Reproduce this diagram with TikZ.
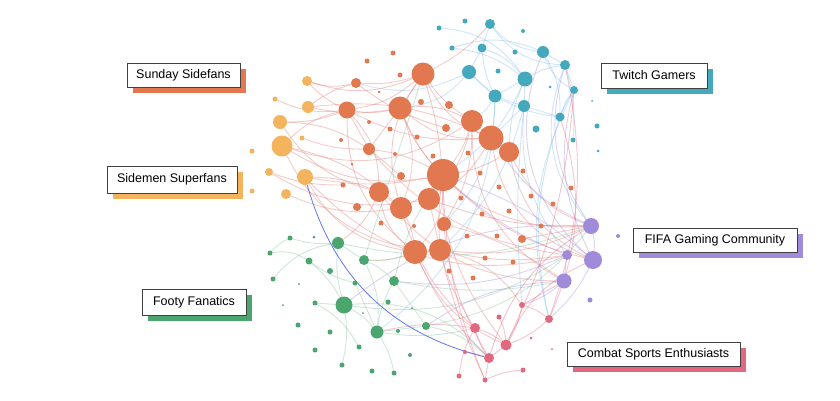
\documentclass[tikz,border=0pt]{standalone}
\usepackage{fontspec}
\setmainfont{Liberation Sans}
\usetikzlibrary{backgrounds,shadows}

\definecolor{cOrange}{HTML}{E2784F}
\definecolor{cYellow}{HTML}{F4B45E}
\definecolor{cTeal}{HTML}{45A9BE}
\definecolor{cPurple}{HTML}{9F8BD9}
\definecolor{cGreen}{HTML}{4BA56E}
\definecolor{cPink}{HTML}{E2687F}
\definecolor{eOrange}{HTML}{E07A72}
\definecolor{eTeal}{HTML}{7FB9F0}
\definecolor{eBlue}{HTML}{6378EA}

\begin{document}
\begin{tikzpicture}[x=1pt, y=-1pt,
        dot/.style={circle, inner sep=0pt, outer sep=0pt, draw=none},
        edge/.style={draw=#1, opacity=.38, line width=.9pt},
        tag/.style={draw=black!75, line width=.8pt, fill=white, inner sep=0pt,
            font=\fontsize{12.5}{14}\selectfont,
            general shadow={fill=#1, shadow xshift=6pt, shadow yshift=-6pt}}
        ]
            \useasboundingbox (0,0) rectangle (840,400);

            % Knoten
            \foreach \n/\x/\y/\r in {1/393/53/2.5, 2/367/61/2.5, 3/423/74/11.5, 4/400/75/2.5,
                    5/356/83/5, 6/379/92/1.5, 7/400/108/11.5, 8/421/102/3, 9/449/105/4,
                    10/347/110/8.5, 11/369/122/2, 12/472/121/11, 13/446/128/4, 14/390/129/2.5,
                    15/417/137/2.5, 16/341/140/2, 17/491/138/12.5, 18/509/152/10, 19/369/149/6,
                    20/395/154/2, 21/433/156/2.5, 22/468/153/2.5, 23/352/164/1.5, 24/443/175/16,
                    25/401/176/4, 26/480/173/2.5, 27/523/171/2.5, 28/499/187/2.5, 29/343/185/2.5,
                    30/379/192/10, 31/571/188/2.5, 32/429/199/11, 33/401/208/11, 34/357/207/4,
                    35/461/198/2.5, 36/531/196/2.5, 37/553/204/2.5, 38/482/214/2.5, 39/509/211/2.5,
                    40/444/224/7, 41/381/223/2.5, 42/414/226/2, 43/541/226/2.5, 44/467/236/2.5,
                    45/497/236/2.5, 46/522/239/4, 47/415/252/12, 48/440/250/11, 49/485/258/2.5,
                    50/513/262/2.5, 51/449/271/2.5, 52/473/278/2.5}
                \node[dot, fill=cOrange, minimum size={2*\r pt}] (o\n) at (\x,\y) {};
            \foreach \n/\x/\y/\r in {1/490/24/5, 2/465/21/2.5, 3/439/28/2.5, 4/523/31/2,
                    5/482/48/4.5, 6/452/48/2.5, 7/515/52/2.5, 8/543/52/6, 9/565/65/5,
                    10/469/72/7, 11/498/71/2.5, 12/525/79/7.5, 13/574/90/4, 14/550/87/1.5,
                    15/495/96/6.5, 16/524/106/6, 17/592/101/1, 18/560/117/4.5, 19/597/126/2.5,
                    20/536/129/3.5, 21/573/140/2.5, 22/598/151/1.5}
                \node[dot, fill=cTeal, minimum size={2*\r pt}] (t\n) at (\x,\y) {};
            \foreach \n/\x/\y/\r in {1/307/81/5, 2/275/99/2.5, 3/308/107/6, 4/280/122/7,
                    5/282/146/10.5, 6/302/138/2.5, 7/252/151/2.5, 8/269/172/4, 9/305/177/8,
                    10/286/194/5, 11/252/191/2.5}
                \node[dot, fill=cYellow, minimum size={2*\r pt}] (y\n) at (\x,\y) {};
            \foreach \n/\x/\y/\r in {1/591/226/8, 2/567/255/5, 3/593/260/9, 4/564/281/7.5,
                    5/590/300/2.5, 6/618/236/2}
                \node[dot, fill=cPurple, minimum size={2*\r pt}] (p\n) at (\x,\y) {};
            \foreach \n/\x/\y/\r in {1/290/238/2.5, 2/314/237/1.5, 3/338/243/6, 4/270/253/2.5,
                    5/309/261/3.5, 6/364/260/5, 7/330/271/3, 8/273/279/2.5, 9/299/284/1,
                    10/355/283/2.5, 11/394/281/5, 12/283/305/1, 13/315/303/2.5, 14/344/305/8.5,
                    15/388/302/2.5, 16/363/313/1, 17/412/308/1, 18/298/325/2.5, 19/377/332/6.5,
                    20/426/326/4, 21/330/332/2.5, 22/398/331/2, 23/359/347/2.5, 24/315/350/2.5,
                    25/410/355/2, 26/342/365/2.5, 27/372/371/2.5, 28/394/373/2.5}
                \node[dot, fill=cGreen, minimum size={2*\r pt}] (g\n) at (\x,\y) {};
            \foreach \n/\x/\y/\r in {1/522/305/3, 2/499/317/2.5, 3/475/328/5, 4/549/319/4,
                    5/506/345/5.5, 6/531/338/1.5, 7/465/352/2, 8/489/358/5, 9/552/349/1,
                    10/523/370/2.5, 11/459/376/2.5, 12/485/380/2.5}
                \node[dot, fill=cPink, minimum size={2*\r pt}] (c\n) at (\x,\y) {};

            % Kanten
            \begin{scope}[on background layer]
            \foreach \a/\b/\k in {o3/o7/0, o3/o5/10, o3/o17/-20, o3/t1/-10, o3/o10/15,
                    o3/o12/-10, o3/o24/5, o7/o10/10, o7/o24/-10, o7/o12/15, o7/o19/0, o7/o33/20,
                    o10/y4/10, o10/y5/-15, o10/o19/0, o10/o30/20, o10/o17/-15, o10/y1/10,
                    o12/o17/0, o12/o24/10, o12/o40/15, o17/o18/0, o17/o32/15, o17/o7/20,
                    o18/p1/-20, o18/o24/10, o18/p3/-25, o24/o32/0, o24/o33/10, o24/o47/20,
                    o24/p3/-15, o24/y5/20, o24/o19/-10, o30/o33/0, o30/y9/-10, o30/o47/-20,
                    o32/o48/0, o32/o12/-15, o33/o47/10, o33/y10/15, o47/o48/0, o47/c5/-20,
                    o47/g6/10, o48/p1/-15, o48/p2/-10, o5/y1/15, o5/o13/-10, o19/y6/10,
                    o19/o25/0, o40/p4/10, o46/p1/0, o30/g3/15, o29/y8/10, o5/y3/-10, y3/o7/-10,
                    y4/o19/15, y5/o12/-25, y8/o32/-20, y9/o24/-10, y9/p2/-30, y1/o3/-20,
                    o24/c3/-20, o32/p1/-10, o48/c1/20, o17/p3/-30, y5/o33/15, o3/o33/-25,
                    o7/p1/-35, o12/p4/-30, o40/c5/-10, y4/o30/-20, y3/o17/15, o10/o47/-25,
                    y2/o10/-15, y9/o47/-25, o19/p2/-20, o30/p4/-25, y5/o48/-30}
                \draw[edge=eOrange] (\a) to[bend left=\k] (\b);
            \foreach \a/\b/\k in {t1/t8/-20, t1/t5/0, t5/t10/0, t5/t12/15, t8/t9/0,
                    t8/t13/-20, t9/t13/0, t10/t15/0, t12/t15/0, t12/t16/0, t12/t9/10,
                    t15/t18/-10, t16/t18/0, t18/t13/10, t15/o12/10, t16/o17/0, t10/o7/20,
                    t9/p1/-30, t6/t8/20, t3/t12/25, t15/o40/20, t18/c4/-15, t15/g19/25,
                    t10/o5/20, t6/t12/15, t5/t15/-10, t12/o18/-10, t16/p2/-20, t8/t18/15,
                    t12/o24/15, t10/t16/-15, t9/t21/10, t13/t18/-5, t1/t9/-25, t16/c1/-5,
                    t13/c4/-20, t16/o48/15}
                \draw[edge=eTeal] (\a) to[bend left=\k] (\b);
            \foreach \a/\b/\k in {p1/p3/10, p2/g11/15, p4/c1/10, p1/t9/25, p3/t13/20,
                    p2/o24/10, p4/g20/-15, p1/o17/15, p3/o24/-10, p2/p4/0, p1/g14/-20,
                    p3/c4/10, p3/t8/35}
                \draw[edge=cPurple] (\a) to[bend left=\k] (\b);
            \foreach \a/\b/\k in {g3/g6/0, g3/g1/10, g4/g5/20, g6/g11/10, g14/g19/10,
                    g14/g13/0, g19/g20/0, g19/g11/10, g14/p2/-20, g20/c8/15, g6/o3/0,
                    g11/p4/-10, g19/c3/-10, g13/g23/15, g20/p1/-20, g5/g14/10, g3/g14/-10,
                    g6/g19/15, g14/c8/25, g11/o24/10, g8/g3/20, g3/p1/-15, g10/g19/0,
                    g5/g10/-10, g19/g28/10, g6/o47/-10, g14/g26/10, g1/g4/-10, g11/g20/0}
                \draw[edge=cGreen!70] (\a) to[bend left=\k] (\b);
            \foreach \a/\b/\k in {c5/c8/0, c3/c8/-10, c1/c4/10, c8/o24/15, c5/p3/20,
                    c4/t18/-20, c8/o47/10, c2/c5/10, c10/c12/-10, c3/o33/15, c4/c5/10,
                    c1/p4/0, c12/o24/10, c3/g19/-10, c8/c12/0, c5/c1/-10, c4/t9/-15,
                    c8/p1/20, c12/o48/5, c3/c5/10, c7/c8/5, c11/c3/10, c5/t13/-10}
                \draw[edge=cPink] (\a) to[bend left=\k] (\b);
            \draw[eBlue, line width=.8pt] (y9) to[bend right=30] (c8);
            \end{scope}

            % Beschriftung
            \node[tag=cOrange, minimum width=113pt, minimum height=24pt] (lSunday) at (183.5,75) {Sunday Sidefans};
            \node[tag=cYellow, minimum width=130pt, minimum height=27pt] (lSidemen) at (172,179.5) {Sidemen Superfans};
            \node[tag=cTeal, minimum width=106pt, minimum height=25pt] (lTwitch) at (654,75.5) {Twitch Gamers};
            \node[tag=cPurple, minimum width=164pt, minimum height=24pt] (lFifa) at (715,240) {FIFA Gaming Community};
            \node[tag=cGreen, minimum width=104pt, minimum height=26pt] (lFooty) at (194,302) {Footy Fanatics};
            \node[tag=cPink, minimum width=173pt, minimum height=24pt] (lCombat) at (653.5,354) {Combat Sports Enthusiasts};

        \end{tikzpicture}
\end{document}
